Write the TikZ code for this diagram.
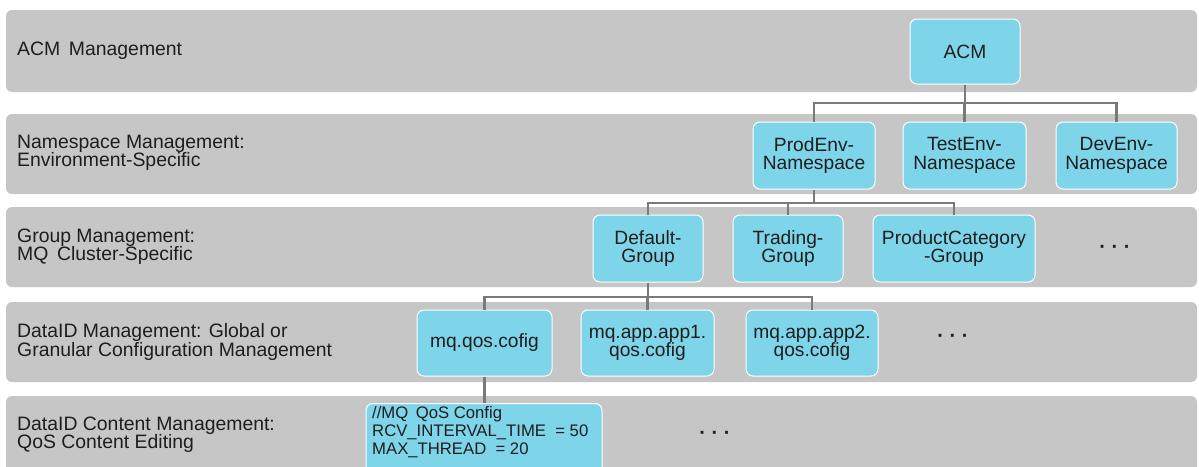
\documentclass[tikz,border=0pt]{standalone}
\usepackage{fontspec}
\setmainfont{Liberation Sans}
\begin{document}
\begin{tikzpicture}[x=1pt,y=-1pt,
  band/.style={fill=bandgray, draw=none, rounded corners=6pt},
  lbl/.style={anchor=west, align=left, text=txt, inner sep=0pt, font=\fontsize{19.4}{18.3}\selectfont},
  box/.style={fill=boxcyan, draw=white, line width=1pt, rounded corners=7pt, align=center, text=txt, inner sep=0pt, font=\fontsize{19.2}{18.3}\selectfont},
  conn/.style={draw=conngray, line width=2.1pt},
  dots/.style={text=txt, inner sep=0pt, font=\fontsize{20}{20}\selectfont\bfseries}]
\definecolor{bandgray}{HTML}{C6C6C6}
\definecolor{boxcyan}{HTML}{7ED4E8}
\definecolor{conngray}{HTML}{7A7A7A}
\definecolor{txt}{HTML}{1E1E1E}
\useasboundingbox (0,0) rectangle (1199,466);
\clip (0,0) rectangle (1199,466);
\fill[white] (0,0) rectangle (1199,466);
% bands
\path[band] (6,10) rectangle (1197,92);
\path[band] (6,114) rectangle (1197,194);
\path[band] (6,207) rectangle (1197,287);
\path[band] (6,302) rectangle (1197,382);
\path[band] (6,396) rectangle (1197,476);
% band labels
\node[lbl] (l1) at (17,51) {ACM\, Management};
\node[lbl] (l2) at (17,153) {Namespace Management:\\Environment-Specific};
\node[lbl] (l3) at (17,247) {Group Management:\\MQ\, Cluster-Specific};
\node[lbl] (l4) at (17,342) {DataID Management: Global or\\Granular Configuration Management};
\node[lbl] (l5) at (17,435) {DataID Content Management:\\QoS Content Editing};
% nodes
\node[box, minimum width=110pt, minimum height=65pt] (acm) at (965,51.5) {ACM};
\node[box, minimum width=122pt, minimum height=67pt] (prod) at (814,155.5) {ProdEnv-\\Namespace};
\node[box, minimum width=123pt, minimum height=67pt] (test) at (964.5,155.5) {TestEnv-\\Namespace};
\node[box, minimum width=121pt, minimum height=67pt] (dev) at (1116.5,155.5) {DevEnv-\\Namespace};
\node[box, minimum width=110pt, minimum height=67pt] (def) at (648,248.5) {Default-\\Group};
\node[box, minimum width=110pt, minimum height=67pt] (trd) at (788,248.5) {Trading-\\Group};
\node[box, minimum width=162pt, minimum height=67pt] (pcat) at (954,248.5) {ProductCategory\\-Group};
\node[dots] (d1) at (1115,249) {· · ·};
\node[box, minimum width=135pt, minimum height=66pt] (qos) at (484.5,343) {mq.qos.cofig};
\node[box, minimum width=133pt, minimum height=66pt] (app1) at (647.5,343) {mq.app.app1.\\qos.cofig};
\node[box, minimum width=132pt, minimum height=66pt] (app2) at (812,343) {mq.app.app2.\\qos.cofig};
\node[dots] (d2) at (953,338) {· · ·};
\node[box, minimum width=236pt, minimum height=80pt, anchor=north] (cont) at (484,403) {};
\node[anchor=north west, align=left, inner sep=0pt, text=txt, font=\fontsize{16.7}{18}\selectfont] (ctext) at (372,406) {//MQ\, QoS Config\\RCV\_INTERVAL\_TIME\ \ = 50\\MAX\_THREAD\ \ = 20};
\node[dots] (d3) at (715,435) {· · ·};
% connectors
\coordinate (b1) at (965,103);
\coordinate (b2) at (814,203);
\coordinate (b3) at (648,297);
\draw[conn] (acm.south) -- (b1);
\draw[conn] (prod.north) |- (b1);
\draw[conn] (dev.north) |- (b1);
\draw[conn] (test.north) -- (test.north |- b1);
\draw[conn] (prod.south) -- (b2);
\draw[conn] (def.north) |- (b2);
\draw[conn] (trd.north) |- (b2);
\draw[conn] (pcat.north) |- (b2);
\draw[conn] (def.south) -- (b3);
\draw[conn] (qos.north) |- (b3);
\draw[conn] (app1.north) |- (b3);
\draw[conn] (app2.north) |- (b3);
\draw[conn] (qos.south) -- (qos.south |- cont.north);
\end{tikzpicture}
\end{document}
